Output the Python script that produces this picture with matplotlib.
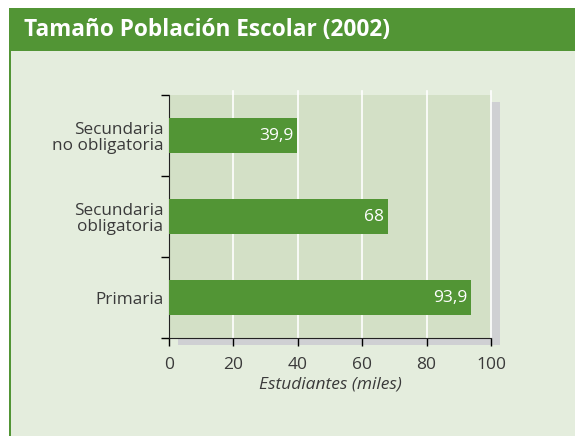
import numpy as np
import matplotlib.pyplot as plt
from matplotlib.patches import Rectangle

# data
categorias = ['Primaria', 'Secundaria\nobligatoria', 'Secundaria\nno obligatoria']
estudiantes = [93.9, 68, 39.9]
etiquetas = ['93,9', '68', '39,9']
x_ticks = [0, 20, 40, 60, 80, 100]

verde = '#529535'
fondo = '#e4eddd'
fondo_plot = '#d3e0c6'
sombra = '#cfd0d3'
texto = '#3a3a3a'

plt.rcParams['font.family'] = ['Open Sans', 'DejaVu Sans']

W, H = 575, 436
fig = plt.figure(figsize=(W / 100, H / 100), dpi=100)
fig.patch.set_facecolor('white')


def px(x0, y0, x1, y1):
    '''pixel box (top-left origin) -> figure fraction rect'''
    return (x0 / W, 1 - y1 / H, (x1 - x0) / W, (y1 - y0) / H)


# panel background + header
r = px(9, 51, W, H)
fig.patches.append(Rectangle(r[:2], r[2], r[3], transform=fig.transFigure,
                             facecolor=fondo, edgecolor='none', zorder=0))
r = px(9, 51, 11, H)
fig.patches.append(Rectangle(r[:2], r[2], r[3], transform=fig.transFigure,
                             facecolor=verde, edgecolor='none', zorder=1))
r = px(9, 8, W, 51)
fig.patches.append(Rectangle(r[:2], r[2], r[3], transform=fig.transFigure,
                             facecolor=verde, edgecolor='none', zorder=1))
fig.text(24 / W, 1 - 30 / H, 'Tamaño Población Escolar (2002)', color='white',
         fontsize=16.3, fontweight='bold', va='center', ha='left')

# drop shadow behind the plot area
r = px(178, 102, 500, 345)
fig.patches.append(Rectangle(r[:2], r[2], r[3], transform=fig.transFigure,
                             facecolor=sombra, edgecolor='none', zorder=1))

ax = fig.add_axes(px(169, 95, 491, 338))
ax.set_facecolor(fondo_plot)
ax.set_zorder(2)

y = np.arange(len(categorias))
ax.barh(y, estudiantes, height=0.43, color=verde, zorder=3)
for yi, v, lab in zip(y, estudiantes, etiquetas):
    ax.text(v - 1.2, yi, lab, color='white', fontsize=12.5,
            ha='right', va='center', zorder=4)

ax.set_xlim(0, 100)
ax.set_ylim(-0.5, len(categorias) - 0.5)

for xv in x_ticks[1:]:
    ax.axvline(xv, ymin=0, ymax=1.017, color='white', lw=1.2, zorder=1,
               clip_on=False)

ax.set_xticks(x_ticks)
ax.set_xticklabels([str(v) for v in x_ticks], color=texto, fontsize=12.5)
ax.tick_params(axis='x', length=6, width=1, direction='out', pad=8)

ax.set_yticks(y)
ax.set_yticklabels(categorias, color=texto, fontsize=12.3, linespacing=1.05)
ax.set_yticks(np.arange(-0.5, len(categorias)), minor=True)
ax.tick_params(axis='y', which='major', length=0, pad=4)
ax.tick_params(axis='y', which='minor', length=6, width=1, direction='out')

for s in ['top', 'right']:
    ax.spines[s].set_visible(False)
ax.spines['left'].set_color('#222222')
ax.spines['bottom'].set_color('#222222')

ax.set_xlabel('Estudiantes (miles)', fontstyle='italic', color=texto,
              fontsize=12.5, labelpad=2)

fig.savefig('out.png', dpi=100)
